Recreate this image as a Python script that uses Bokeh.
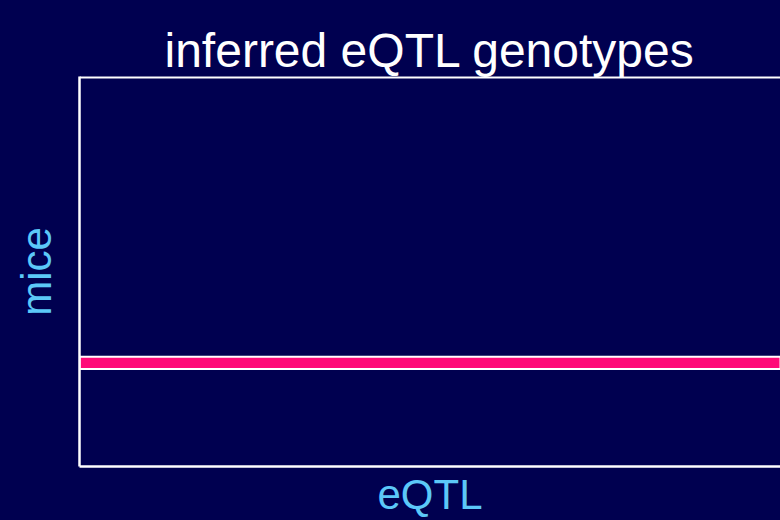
from bokeh.plotting import figure
from bokeh.models import Range1d, FixedTicker, ColumnDataSource, Span
from bokeh.embed import file_html
from bokeh.resources import INLINE

# ---- data ----
title_text = "inferred eQTL genotypes"
x_label = "eQTL"
y_label = "mice"
n_mice = 32            # rows on the mice axis
n_eqtl = 100           # columns on the eQTL axis
inferred_rows = [8]    # mouse rows that carry an inferred genotype
eqtl_start = [0]
eqtl_end = [100]

BG = "#000050"
PINK = "#FF0A78"
LABEL = "#5CC8F8"
FONT = "Liberation Sans"

p = figure(width=772, height=512, output_backend="svg", toolbar_location=None,
           x_range=Range1d(0, n_eqtl), y_range=Range1d(0, n_mice),
           min_border_left=71, min_border_right=0, min_border_top=68,
           min_border_bottom=54)
p.background_fill_color = BG
p.border_fill_color = BG
p.outline_line_color = None
p.grid.visible = False

src = ColumnDataSource(dict(
    left=eqtl_start, right=eqtl_end,
    bottom=inferred_rows, top=[r + 1 for r in inferred_rows]))
p.quad(left="left", right="right", bottom="bottom", top="top", source=src,
       fill_color=PINK, line_color="white", line_width=2)

# top border of the plotting area
p.add_layout(Span(location=n_mice, dimension="width", line_color="white", line_width=4))

bottom_axis = p.below[0]
left_axis = p.left[0]
bottom_axis.axis_label = x_label
left_axis.axis_label = y_label

for ax in [bottom_axis, left_axis]:
    ax.ticker = FixedTicker(ticks=[])
    ax.major_tick_line_color = None
    ax.minor_tick_line_color = None
    ax.major_label_text_font_size = "0px"
    ax.major_label_standoff = 0
    ax.major_tick_out = 0
    ax.major_tick_in = 0
    ax.minor_tick_out = 0
    ax.minor_tick_in = 0
    ax.axis_line_color = "white"
    ax.axis_line_width = 2.5
    ax.axis_label_text_font = FONT
    ax.axis_label_text_font_size = "42px"
    ax.axis_label_text_font_style = "normal"
    ax.axis_label_text_color = LABEL

left_axis.axis_label_standoff = 20
bottom_axis.axis_label_standoff = 4

p.title.text = title_text
p.title.align = "center"
p.title.vertical_align = "bottom"
p.title.text_font = FONT
p.title.text_font_size = "48px"
p.title.text_font_style = "normal"
p.title.text_color = "white"
p.title.text_line_height = 0.83
p.title.standoff = 0

html = file_html(p, INLINE)
html = html.replace("</head>", "<style>html,body{background:%s;padding:0;}html{margin:0;overflow:hidden;}body{margin:8px 0 0 8px;}</style></head>" % BG, 1)
open("out.html", "w").write(html)
